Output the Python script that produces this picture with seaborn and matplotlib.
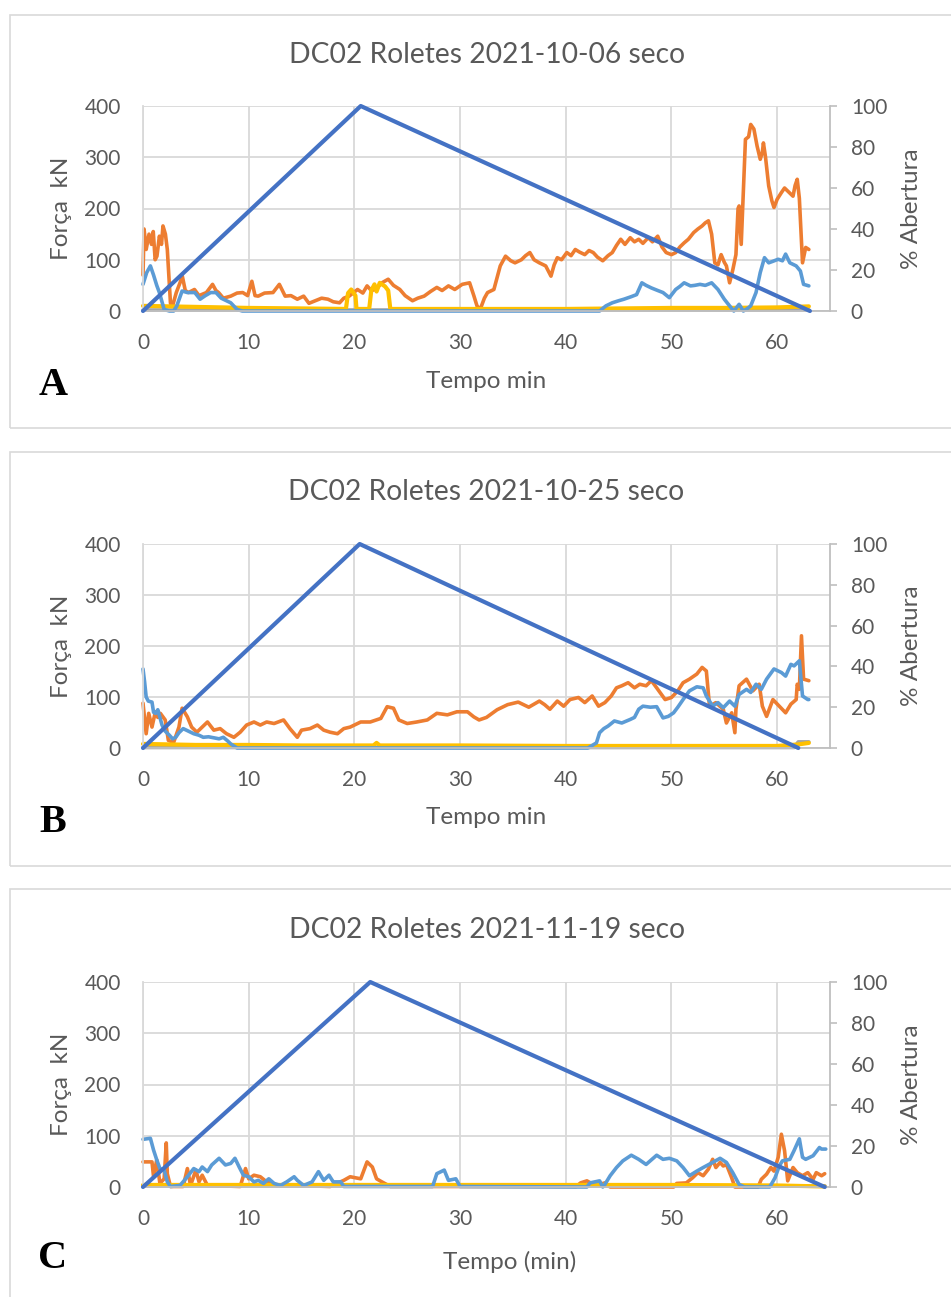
import numpy as np
import pandas as pd
import matplotlib
matplotlib.use("Agg")
import matplotlib.pyplot as plt
import seaborn as sns
from matplotlib.patches import Rectangle

# colours (Excel default palette)
ORANGE = '#ED7D31'
LBLUE = '#5B9BD5'
YELLOW = '#FFC000'
GREY = '#A5A5A5'
DBLUE = '#4472C4'
TXT = '#595959'
GRID = '#D9D9D9'
AXIS = '#BFBFBF'

titles = ['DC02 Roletes 2021-10-06 seco', 'DC02 Roletes 2021-10-25 seco', 'DC02 Roletes 2021-11-19 seco']
xlabels = ['Tempo min', 'Tempo min', 'Tempo (min)']
letters = ['A', 'B', 'C']
ylabel_left = 'Força  kN'
ylabel_right = '% Abertura'
x_ticks = [0, 10, 20, 30, 40, 50, 60]
force_ticks = [0, 100, 200, 300, 400]
pct_ticks = [0, 20, 40, 60, 80, 100]

# ---- panel A (time min, force kN) ----
a_orange = [(0, 70), (0.1, 160), (0.3, 120), (0.57, 150), (0.8, 130), (0.97, 155), (1.15, 100), (1.32, 107),
            (1.55, 146), (1.75, 130), (1.89, 166), (2.12, 150), (2.3, 120), (2.45, 68), (2.6, 15), (2.8, 10),
            (3.15, 36), (3.5, 55), (3.72, 68), (4.0, 40), (4.3, 36), (4.87, 42), (5.3, 30), (6.0, 36), (6.58, 52),
            (6.9, 40), (7.15, 36), (7.6, 25), (8.3, 29), (8.9, 35), (9.44, 36), (9.9, 30), (10.3, 58), (10.6, 30),
            (10.9, 29), (11.5, 35), (12.3, 36), (12.9, 52), (13.45, 29), (14.0, 30), (14.6, 23), (15.2, 29),
            (15.7, 15), (16.3, 20), (16.9, 25), (17.5, 23), (18.0, 18), (18.6, 16), (19.0, 25), (19.5, 29),
            (20.3, 42), (20.8, 35), (21.2, 49), (21.6, 40), (22.0, 42), (22.6, 55), (23.2, 62), (23.7, 50),
            (24.3, 42), (24.8, 30), (25.5, 20), (26.0, 25), (26.6, 29), (27.2, 38), (27.8, 46), (28.3, 40),
            (28.9, 49), (29.5, 42), (30.2, 52), (30.9, 55), (31.3, 30), (31.6, 10), (31.9, 3), (32.3, 25),
            (32.6, 36), (33.2, 42), (33.8, 88), (34.3, 107), (34.8, 98), (35.2, 94), (35.8, 100), (36.2, 108),
            (36.6, 114), (37.0, 100), (37.5, 94), (38.1, 88), (38.6, 68), (38.9, 90), (39.2, 104), (39.6, 100),
            (40.1, 114), (40.5, 108), (40.9, 120), (41.3, 115), (41.8, 110), (42.2, 118), (42.6, 114), (43.0, 105),
            (43.5, 98), (44.0, 108), (44.4, 114), (44.8, 128), (45.2, 140), (45.6, 130), (46.1, 143), (46.5, 135),
            (46.9, 140), (47.3, 132), (47.8, 143), (48.2, 135), (48.7, 146), (49.1, 125), (49.5, 114), (50.0, 110),
            (50.4, 114), (50.8, 125), (51.2, 133), (51.6, 140), (52.1, 153), (52.5, 160), (52.9, 166), (53.2, 172),
            (53.5, 176), (53.8, 150), (54.1, 94), (54.4, 90), (54.7, 110), (55.0, 95), (55.2, 88), (55.5, 55),
            (55.8, 80), (56.1, 110), (56.3, 200), (56.4, 205), (56.6, 130), (56.7, 180), (57.0, 335), (57.3, 340),
            (57.5, 364), (57.8, 355), (58.1, 322), (58.4, 296), (58.6, 310), (58.7, 328), (58.9, 300), (59.2, 244),
            (59.5, 215), (59.7, 202), (60.0, 218), (60.4, 231), (60.7, 240), (61.0, 234), (61.3, 228), (61.5, 224),
            (61.7, 245), (61.9, 257), (62.1, 220), (62.4, 94), (62.7, 124), (63.0, 120)]
a_blue = [(0, 52), (0.35, 75), (0.7, 88), (1.0, 70), (1.3, 50), (1.55, 36), (2.0, 3), (2.5, 0), (2.9, 0), (3.2, 10),
          (3.7, 39), (4.2, 36), (4.9, 36), (5.4, 23), (5.9, 30), (6.4, 36), (6.9, 36), (7.4, 25), (8.3, 16), (8.9, 3),
          (9.4, 0), (20, 0), (30, 0), (43.2, 0), (43.8, 10), (44.4, 16), (45.0, 20), (45.5, 23), (46.2, 28),
          (46.7, 32), (47.2, 55), (47.6, 50), (48.1, 45), (48.7, 40), (49.2, 36), (49.8, 26), (50.4, 42), (50.8, 48),
          (51.2, 55), (51.8, 49), (52.2, 50), (52.7, 52), (53.2, 50), (53.8, 55), (54.4, 42), (55.0, 23), (55.5, 10),
          (55.9, 0), (56.4, 13), (56.8, 0), (57.2, 5), (57.5, 10), (58.0, 36), (58.4, 75), (58.8, 104), (59.2, 94),
          (59.6, 97), (60.1, 101), (60.5, 98), (60.8, 111), (61.2, 94), (61.8, 88), (62.2, 78), (62.5, 52), (63.0, 49)]
a_yellow = [(0, 10), (5, 8), (10, 6), (15, 5), (19.2, 4), (19.4, 35), (19.7, 42), (20.1, 30), (20.2, 4), (21.4, 4),
            (21.6, 40), (21.9, 52), (22.1, 38), (22.4, 55), (22.9, 48), (23.2, 40), (23.4, 4), (30, 4), (40, 4),
            (45, 5), (50, 6), (55, 6), (60, 7), (63, 9)]
a_grey = [(0, 1), (63, 1)]
a_tri = [(0, 0), (20.6, 100), (63.1, 0)]

# ---- panel B ----
b_orange = [(0, 88), (0.3, 28), (0.54, 68), (0.85, 41), (1.17, 71), (1.4, 60), (1.64, 68), (2.1, 55), (2.4, 15),
            (2.9, 11), (3.4, 41), (3.7, 78), (4.2, 61), (4.6, 41), (5.1, 31), (5.6, 41), (6.1, 51), (6.7, 35),
            (7.3, 38), (7.9, 28), (8.6, 21), (9.2, 31), (9.8, 45), (10.5, 51), (11.1, 45), (11.7, 51), (12.4, 48),
            (13.3, 55), (13.9, 38), (14.6, 21), (15.0, 35), (15.8, 38), (16.5, 45), (17.1, 35), (17.7, 31),
            (18.4, 28), (19.0, 38), (19.6, 41), (20.6, 51), (21.5, 51), (22.5, 58), (23.1, 81), (23.7, 78),
            (24.2, 55), (25.0, 48), (25.9, 51), (26.9, 55), (27.8, 68), (28.8, 65), (29.7, 71), (30.7, 71),
            (31.3, 61), (31.8, 55), (32.5, 60), (33.5, 75), (34.5, 85), (35.5, 90), (36.5, 80), (37.5, 92),
            (38.0, 85), (38.5, 76), (39.2, 92), (39.8, 82), (40.4, 95), (41.2, 99), (41.8, 89), (42.5, 102),
            (43.1, 82), (43.7, 89), (44.3, 102), (44.8, 118), (45.3, 122), (45.9, 128), (46.5, 118), (47.0, 125),
            (47.6, 122), (48.1, 132), (48.6, 118), (49.4, 95), (50.0, 99), (50.6, 112), (51.1, 128), (51.7, 135),
            (52.4, 145), (52.9, 158), (53.3, 151), (53.6, 82), (54.2, 89), (54.9, 76), (55.2, 49), (55.7, 69),
            (56.0, 30), (56.1, 76), (56.4, 122), (57.1, 135), (57.7, 112), (58.3, 125), (58.6, 82), (59.0, 62),
            (59.6, 95), (60.2, 82), (60.8, 69), (61.3, 86), (61.8, 95), (61.9, 125), (62.1, 115), (62.3, 220),
            (62.5, 135), (63.0, 132)]
b_blue = [(0, 155), (0.15, 130), (0.3, 100), (0.5, 92), (0.85, 90), (1.0, 70), (1.2, 68), (1.4, 75), (1.6, 60),
          (1.8, 45), (2.1, 33), (2.5, 25), (2.8, 18), (3.1, 21), (3.4, 30), (3.8, 38), (4.3, 33), (4.8, 28), (5.3, 25),
          (5.7, 21), (6.2, 22), (6.7, 20), (7.2, 18), (7.6, 21), (8.0, 14), (8.3, 8), (8.9, 0), (20, 0), (30, 0),
          (42.1, 0), (42.5, 5), (42.9, 10), (43.2, 30), (43.6, 38), (44.0, 43), (44.6, 53), (45.3, 49), (46.1, 56),
          (46.5, 60), (46.9, 76), (47.3, 82), (48.0, 80), (48.6, 81), (49.2, 59), (49.7, 62), (50.2, 69), (50.6, 80),
          (51.1, 95), (51.7, 112), (52.4, 120), (53.0, 118), (53.3, 102), (53.9, 82), (54.4, 89), (54.9, 79),
          (55.5, 92), (56.0, 82), (56.4, 105), (57.1, 115), (57.5, 109), (58.0, 125), (58.5, 115), (59.0, 135),
          (59.7, 155), (60.4, 148), (60.8, 141), (61.3, 164), (61.6, 161), (62.1, 171), (62.4, 102), (62.9, 95),
          (63.0, 95)]
b_yellow = [(0, 8), (5, 6), (10, 6), (15, 5), (21.8, 5), (22.1, 10), (22.4, 5), (30, 5), (40, 4), (50, 4), (60, 4),
            (62, 7), (63, 10)]
b_grey = [(0, 1), (61.6, 1), (62, 12), (63, 12)]
b_tri = [(0, 0), (20.5, 100), (62.0, 0)]

# ---- panel C ----
c_orange = [(0, 49), (0.85, 49), (1.0, 20), (1.3, 53), (1.6, 7), (2.0, 16), (2.2, 86), (2.3, 26), (2.6, 1), (3.8, 1),
            (4.2, 36), (4.5, 3), (5.0, 33), (5.3, 10), (5.6, 23), (6.1, 3), (9.2, 1), (9.7, 36), (10.0, 16),
            (10.5, 23), (11.1, 20), (11.7, 10), (12.7, 3), (14.6, 3), (17.7, 1), (19.0, 13), (19.6, 20), (20.6, 16),
            (21.2, 49), (21.7, 39), (22.1, 16), (22.6, 10), (23.4, 1), (30, 1), (41.0, 1), (41.4, 8), (42.0, 12),
            (42.6, 5), (43.2, 5), (43.7, 8), (44.2, 0), (50.2, 0), (50.5, 7), (51.4, 8), (52.0, 18), (52.5, 28),
            (53.0, 22), (53.5, 35), (53.9, 54), (54.2, 38), (54.6, 48), (54.9, 41), (55.2, 44), (55.7, 18), (56.0, 0),
            (58.2, 0), (58.5, 15), (59.0, 25), (59.4, 38), (59.7, 31), (60.1, 58), (60.4, 103), (60.7, 71), (61.0, 12),
            (61.5, 38), (61.9, 28), (62.4, 22), (62.9, 28), (63.4, 15), (63.7, 28), (64.2, 22), (64.5, 26)]
c_blue = [(0, 93), (0.7, 95), (1.0, 72), (1.3, 53), (1.6, 36), (2.0, 33), (2.3, 10), (2.6, 1), (3.5, 3), (4.2, 20),
          (4.8, 36), (5.3, 30), (5.6, 39), (6.1, 30), (6.5, 43), (7.2, 56), (7.8, 43), (8.3, 46), (8.7, 56), (9.1, 39),
          (9.5, 23), (10.0, 20), (10.5, 10), (10.9, 13), (11.4, 7), (11.9, 16), (12.4, 7), (13.0, 3), (13.6, 10),
          (14.3, 20), (14.6, 13), (15.2, 3), (16.0, 10), (16.6, 30), (17.1, 13), (17.6, 23), (18.0, 10), (18.7, 10),
          (19.0, 1), (27.4, 1), (27.8, 26), (28.5, 33), (28.9, 13), (29.6, 16), (30.0, 1), (42.0, 0), (42.3, 8),
          (43.2, 12), (43.5, 0), (43.7, 5), (44.2, 22), (44.8, 38), (45.4, 51), (46.2, 62), (46.9, 54), (47.6, 44),
          (48.6, 62), (49.2, 54), (49.8, 56), (50.5, 51), (51.1, 38), (51.7, 22), (52.4, 31), (53.0, 38), (53.9, 48),
          (54.6, 56), (55.2, 48), (55.8, 28), (56.4, 5), (56.9, 0), (59.3, 0), (59.8, 18), (60.2, 41), (60.5, 51),
          (61.2, 54), (61.6, 71), (62.1, 94), (62.4, 58), (62.7, 54), (63.4, 61), (64.0, 77), (64.2, 74), (64.6, 74)]
c_yellow = [(0, 4), (10, 4), (20, 4), (30, 4), (40, 4), (50, 4), (60, 3), (64.5, 1)]
c_grey = [(0, 1), (64.5, 1)]
c_tri = [(0, 0), (21.5, 100), (64.5, 0)]

# ---- layout in pixels ----
W, H = 951, 1297
AX_L, AX_R = 143, 830
ax_top = [106, 544, 982]
ax_bot = [311, 748, 1187]
title_y = [55, 492, 930]
xlabel_xy = [(486, 382), (486, 818), (510, 1262)]
letter_y = [385, 823, 1258]
box_y = [(15, 428), (452, 866), (889, 1330)]

sns.set_theme(style='white')
plt.rcParams['font.family'] = ['Lato', 'DejaVu Sans']

fig = plt.figure(figsize=(W / 100, H / 100), dpi=100)


def fx(px):
    return px / W


def fy(py):
    return 1 - py / H


def draw_line(ax, pts, color, lw):
    df = pd.DataFrame(pts, columns=['t', 'v'])
    sns.lineplot(data=df, x='t', y='v', ax=ax, color=color, lw=lw, estimator=None, sort=False,
                 clip_on=False, solid_joinstyle='round')


def draw_panel(i, orange, blue, yellow, grey, tri):
    top, bot = ax_top[i], ax_bot[i]
    # panel frame
    b0, b1 = box_y[i]
    fig.patches.append(Rectangle((fx(10), fy(b1)), fx(960 - 10), (b1 - b0) / H, transform=fig.transFigure,
                                 fill=False, edgecolor=GRID, lw=1.2))
    ax = fig.add_axes([fx(AX_L), fy(bot), (AX_R - AX_L) / W, (bot - top) / H])
    ax.set_facecolor('none')
    draw_line(ax, grey, GREY, 2.6)
    draw_line(ax, orange, ORANGE, 2.6)
    draw_line(ax, yellow, YELLOW, 3.0)
    draw_line(ax, blue, LBLUE, 2.6)
    ax.set_xlim(0, 65)
    ax.set_ylim(0, 400)
    ax.set_xticks(x_ticks)
    ax.set_yticks(force_ticks)
    ax.grid(True, color=GRID, lw=1.3)
    ax.set_axisbelow(True)
    ax.tick_params(axis='both', length=0, labelsize=15, labelcolor=TXT)
    ax.tick_params(axis='x', pad=16)
    ax.tick_params(axis='y', pad=16)
    for s in ['top', 'right']:
        ax.spines[s].set_visible(False)
    ax.spines['left'].set_color(GRID)
    ax.spines['bottom'].set_color(AXIS)
    ax.spines['left'].set_linewidth(1.3)
    ax.spines['bottom'].set_linewidth(1.3)
    ax.set_xlabel('')
    ax.set_ylabel('')

    ax2 = ax.twinx()
    df = pd.DataFrame(tri, columns=['t', 'p'])
    sns.lineplot(data=df, x='t', y='p', ax=ax2, color=DBLUE, lw=3.0, estimator=None, sort=False, clip_on=False)
    ax2.set_ylim(0, 100)
    ax2.set_yticks(pct_ticks)
    ax2.grid(False)
    for s in ['top', 'left', 'bottom']:
        ax2.spines[s].set_visible(False)
    ax2.spines['right'].set_color(AXIS)
    ax2.spines['right'].set_linewidth(1.3)
    ax2.tick_params(axis='y', direction='out', length=5, width=1.2, color=AXIS, pad=10,
                    labelsize=15, labelcolor=TXT, right=True)
    ax2.set_ylabel('')

    mid = (top + bot) / 2
    fig.text(fx((AX_L + AX_R) / 2), fy(title_y[i]), titles[i], ha='center', va='center', fontsize=20.3, color=TXT)
    fig.text(fx(62), fy(mid), ylabel_left, rotation=90, ha='center', va='center', fontsize=17.5, color=TXT)
    fig.text(fx(912), fy(mid), ylabel_right, rotation=90, ha='center', va='center', fontsize=17.5, color=TXT)
    xl, yl = xlabel_xy[i]
    fig.text(fx(xl), fy(yl), xlabels[i], ha='center', va='center', fontsize=17.5, color=TXT)
    fig.text(fx(53), fy(letter_y[i]), letters[i], ha='center', va='center', fontsize=29,
             fontweight='bold', family=['Liberation Serif', 'DejaVu Serif'], color='black')


draw_panel(0, a_orange, a_blue, a_yellow, a_grey, a_tri)
draw_panel(1, b_orange, b_blue, b_yellow, b_grey, b_tri)
draw_panel(2, c_orange, c_blue, c_yellow, c_grey, c_tri)

fig.savefig('out.png', dpi=100, facecolor='white')
